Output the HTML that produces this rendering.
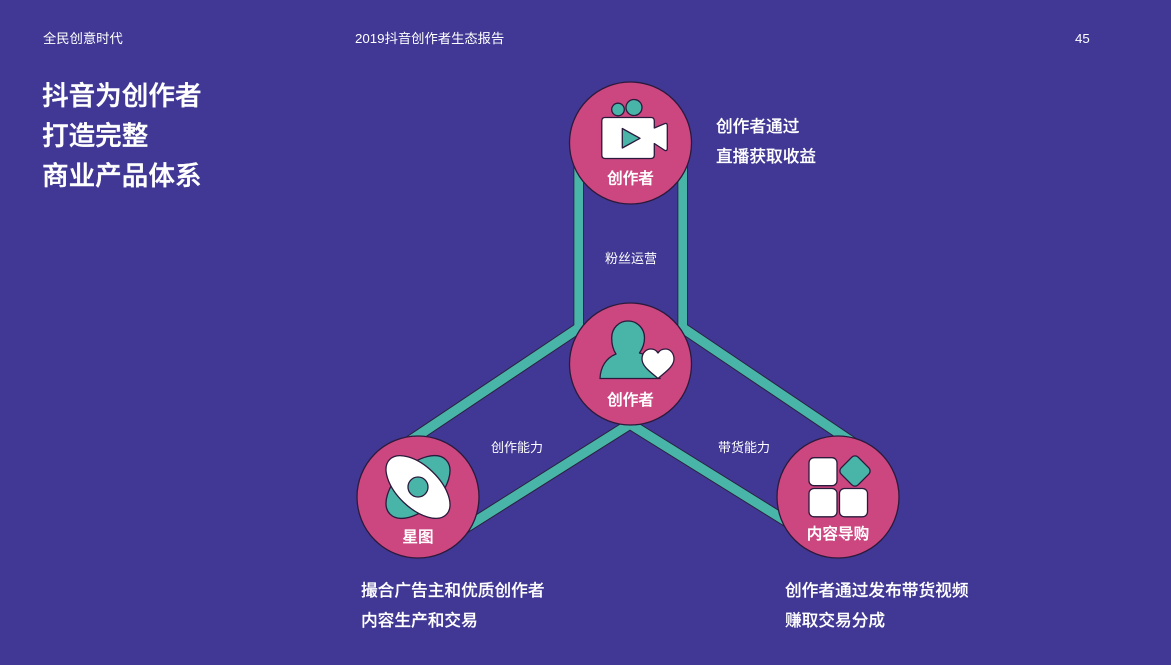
<!DOCTYPE html>
<html><head><meta charset="utf-8"><style>
html,body{margin:0;padding:0;background:#403894}
svg{display:block}
text{font-family:"Liberation Sans","Noto Sans CJK SC",sans-serif;fill:#fff}
</style></head><body>
<svg width="1171" height="665" viewBox="0 0 1171 665" xmlns="http://www.w3.org/2000/svg">
<rect width="1171" height="665" fill="#403894"/>
<g font-size="13.3">
<text x="43" y="43">全民创意时代</text>
<text x="355" y="43">2019抖音创作者生态报告</text>
<text x="1075" y="43">45</text>
</g>
<g font-size="26.6" font-weight="500" stroke="#fff" stroke-width="0.4">
<text x="42" y="105">抖音为创作者</text>
<text x="42" y="145">打造完整</text>
<text x="42" y="185">商业产品体系</text>
</g>
<g fill="none" stroke-linecap="butt" stroke-linejoin="miter">
<path stroke="#2b2140" stroke-width="10.5" d="M578.700 150V330M682.700 150V330"/>
<path stroke="#2b2140" stroke-width="11.500" d="M578.700 328L380 461M682.700 328L880 461M630 424L450 537.500M630 424L810 536"/>
<path stroke="#48b5a8" stroke-width="8.700" d="M578.700 150V330M682.700 150V330"/>
<path stroke="#48b5a8" stroke-width="9.500" d="M578.700 328L380 461M682.700 328L880 461M630 424L450 537.500M630 424L810 536"/>
</g>
<g fill="#cc4680" stroke="#2b1a3c" stroke-width="1.300">
<circle cx="630.500" cy="143" r="61"/>
<circle cx="630.500" cy="364" r="61"/>
<circle cx="418" cy="497" r="61"/>
<circle cx="838" cy="497" r="61"/>
</g>
<g stroke="#2b1a3c" stroke-width="1.300" stroke-linejoin="round">
<!-- camera -->
<circle cx="618" cy="109.500" r="6.300" fill="#48b5a8"/>
<circle cx="634" cy="107.500" r="8" fill="#48b5a8"/>
<path d="M605 117.500H651Q654.300 117.500 654.300 121V128L665 123.500Q667.300 123 667.300 125.500V148.500Q667.300 151 665 150.500L654.300 143.500V155Q654.300 158.500 651 158.500H605Q601.800 158.500 601.800 155V121Q601.800 117.500 605 117.500Z" fill="#fff"/>
<path d="M622.300 128.500L640 138.300L622.300 148Z" fill="#48b5a8"/>
<!-- person -->
<path d="M600 378.500C600.500 367 606 358 616 354C612.500 349 611.700 343 611.700 338C611.700 328 619 321 628 321C637 321 644.500 328 644.500 338C644.500 343 643 348 639.500 353C644 354 647 356 650 358L660 378.500Z" fill="#48b5a8"/>
<path d="M658 378.500C652 373 642 367 642 359C642 352 647 349 651 349C654 349 656.500 350.500 658 353C659.500 350.500 662 349 665.500 349C670 349 674 353 674 359C674 367 664 373 658 378.500Z" fill="#fff"/>
<!-- star map -->
<ellipse cx="418" cy="487" rx="39" ry="22" transform="rotate(-44 418 487)" fill="#48b5a8"/>
<ellipse cx="418" cy="487" rx="39.500" ry="21" transform="rotate(44 418 487)" fill="#fff"/>
<circle cx="418" cy="487" r="10" fill="#48b5a8"/>
<!-- grid -->
<rect x="809" y="457.700" width="28" height="28" rx="5" fill="#fff"/>
<rect x="809" y="488.500" width="28" height="28.300" rx="5" fill="#fff"/>
<rect x="839.500" y="488.500" width="28" height="28.300" rx="5" fill="#fff"/>
<rect x="843" y="459" width="24" height="24" rx="4.500" transform="rotate(45 855 471)" fill="#48b5a8"/>
</g>
<g font-size="15.600" font-weight="500" text-anchor="middle" stroke="#fff" stroke-width="0.3">
<text x="630.500" y="183.500">创作者</text>
<text x="630.500" y="405">创作者</text>
<text x="418" y="542">星图</text>
<text x="838" y="539">内容导购</text>
</g>
<g font-size="13">
<text x="605" y="263">粉丝运营</text>
<text x="491" y="452">创作能力</text>
<text x="718" y="452">带货能力</text>
</g>
<g font-size="16.700" font-weight="500" stroke="#fff" stroke-width="0.15">
<text x="716" y="132">创作者通过</text>
<text x="716" y="162">直播获取收益</text>
<text x="361" y="596">撮合广告主和优质创作者</text>
<text x="361" y="626">内容生产和交易</text>
<text x="785" y="596">创作者通过发布带货视频</text>
<text x="785" y="626">赚取交易分成</text>
</g>
</svg>
</body></html>
